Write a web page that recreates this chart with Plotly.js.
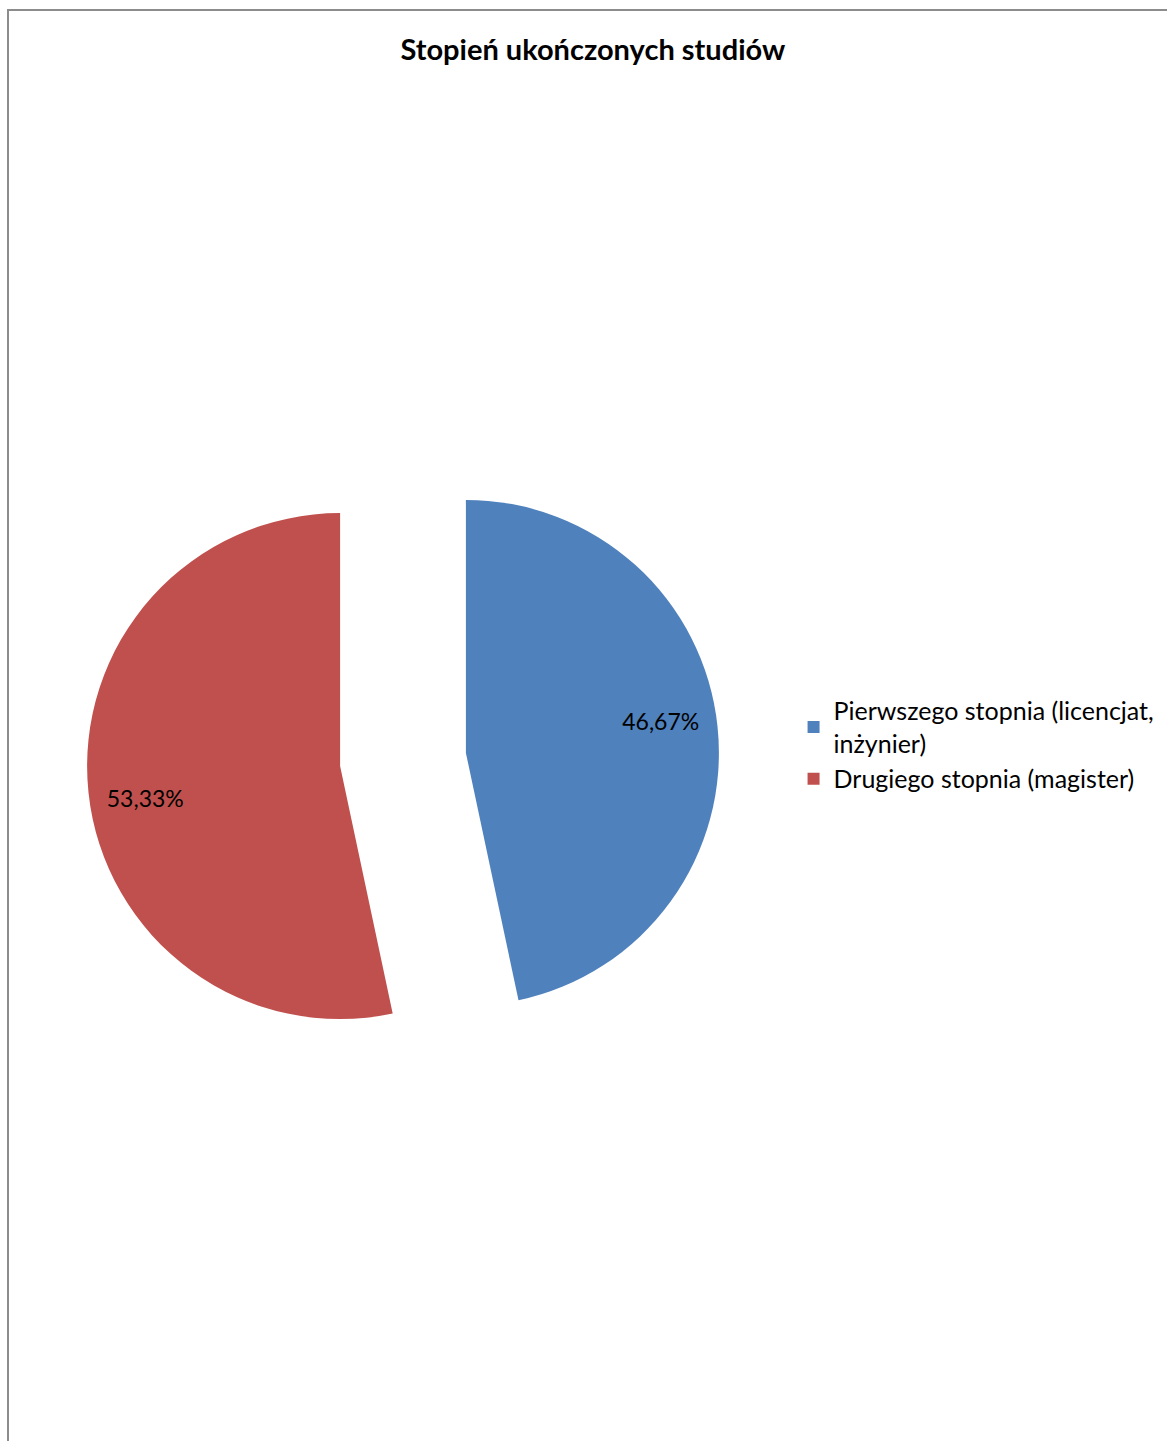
<!DOCTYPE html>
<html>
<head>
<meta charset="utf-8">
<script src="https://cdn.plot.ly/plotly-3.0.1.min.js"></script>
<style>
  html, body { margin: 0; padding: 0; background: #ffffff; }
  #chart { position: absolute; left: 0; top: 0; width: 1167px; height: 1441px; }
  #frame { position: absolute; left: 7px; top: 9px; width: 1160px; height: 1432px;
           border-left: 2px solid #8c8c8c; border-top: 2px solid #8c8c8c; box-sizing: border-box;
           pointer-events: none; }
</style>
</head>
<body>
<div id="chart"></div>
<div id="frame"></div>
<script>
const chartTitle = 'Stopień ukończonych studiów';
const categories = ['Pierwszego stopnia (licencjat,<br>inżynier)', 'Drugiego stopnia (magister)'];
const counts = [7, 8];
const sliceColors = ['#4F81BD', '#C0504D'];
const pulls = [0.25, 0.25];

const FONT = 'Lato, "Open Sans", sans-serif';
const pieDomain = { x: [0.07434, 0.61632], y: [0.17294, 0.77294] };

// slices
const slices = {
  type: 'pie',
  labels: categories,
  values: counts,
  sort: false,
  direction: 'clockwise',
  rotation: 0,
  pull: pulls,
  marker: { colors: sliceColors, line: { width: 0 } },
  textinfo: 'none',
  hoverinfo: 'label+percent',
  domain: pieDomain
};

// percentage labels, placed in the outer ring of the same pie
const labelsRing = {
  type: 'pie',
  labels: categories,
  values: counts,
  sort: false,
  direction: 'clockwise',
  rotation: -2.5,
  pull: pulls,
  hole: 0.56,
  showlegend: false,
  marker: { colors: ['rgba(0,0,0,0)', 'rgba(0,0,0,0)'], line: { width: 0 } },
  textinfo: 'percent',
  texttemplate: '%{percent:.2%}',
  textposition: 'inside',
  insidetextorientation: 'horizontal',
  textfont: { family: FONT, size: 23, color: '#000000' },
  hoverinfo: 'skip',
  domain: pieDomain
};

const layout = {
  width: 1167,
  height: 1441,
  margin: { l: 0, r: 0, t: 0, b: 0 },
  paper_bgcolor: '#ffffff',
  separators: ', ',
  font: { family: FONT, color: '#000000' },
  title: {
    text: '<b>' + chartTitle + '</b>',
    font: { family: FONT, size: 29, color: '#000000' },
    x: 0.508, xanchor: 'center', xref: 'paper',
    y: 0.9653, yanchor: 'middle', yref: 'paper'
  },
  showlegend: true,
  legend: {
    x: 0.68, xanchor: 'left',
    y: 0.483, yanchor: 'middle',
    font: { family: FONT, size: 25, color: '#000000' },
    bgcolor: 'rgba(0,0,0,0)',
    traceorder: 'normal'
  }
};

Plotly.newPlot('chart', [slices, labelsRing], layout, { displayModeBar: false, staticPlot: true });
</script>
</body>
</html>
